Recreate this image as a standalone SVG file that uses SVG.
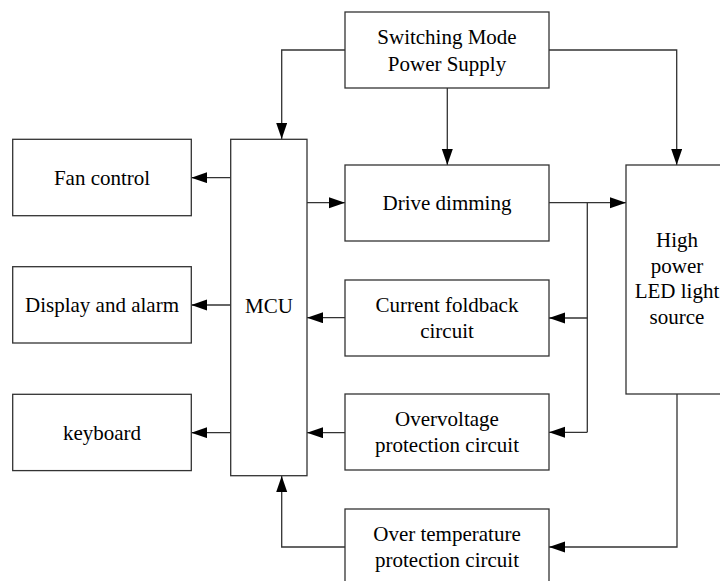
<svg xmlns="http://www.w3.org/2000/svg" width="720" height="581" viewBox="0 0 720 581">
<defs>
<marker id="ah" markerUnits="userSpaceOnUse" markerWidth="16" markerHeight="12" refX="16" refY="5.5" orient="auto">
<path d="M0,0 L16,5.5 L0,11 z" fill="#000"/>
</marker>
<style>
.box{fill:#fff;stroke:#333;stroke-width:1.3}
.t{font-family:"Liberation Serif","Times New Roman",serif;font-size:21px;fill:#000;text-anchor:middle}
.c{fill:none;stroke:#333;stroke-width:1.3}
.a{marker-end:url(#ah)}
</style>
</defs>
<rect width="720" height="581" fill="#fff"/>
<g id="connectors">
<path class="c a" d="M345,50 H281.7 V139"/>
<path class="c a" d="M447.3,88 V165"/>
<path class="c a" d="M549,50 H676.7 V165"/>
<path class="c a" d="M230.7,177.7 H191.3"/>
<path class="c a" d="M230.7,305 H191.3"/>
<path class="c a" d="M230.7,432.7 H191.3"/>
<path class="c a" d="M307,202.7 H345"/>
<path class="c a" d="M345,317.7 H307"/>
<path class="c a" d="M345,432.7 H307"/>
<path class="c a" d="M549,202.7 H626"/>
<path class="c" d="M587.3,202.7 V432.3"/>
<path class="c a" d="M587.3,318 H549"/>
<path class="c a" d="M587.3,432.3 H549"/>
<path class="c a" d="M677,394 V547 H549"/>
<path class="c a" d="M345,547 H281.7 V476"/>
</g>
<g id="smps"><rect class="box" x="345" y="12" width="204" height="76"/><text class="t" x="447" y="44">Switching Mode</text><text class="t" x="447" y="70.5">Power Supply</text></g>
<g id="fan"><rect class="box" x="12.7" y="139.3" width="178.6" height="76.4"/><text class="t" x="102" y="184.5">Fan control</text></g>
<g id="display"><rect class="box" x="12.7" y="266.7" width="178.6" height="76.3"/><text class="t" x="102" y="312">Display and alarm</text></g>
<g id="keyboard"><rect class="box" x="12.7" y="394.3" width="178.6" height="76.3"/><text class="t" x="102" y="439.5">keyboard</text></g>
<g id="mcu"><rect class="box" x="230.7" y="139.3" width="76.3" height="336.4"/><text class="t" x="269" y="313">MCU</text></g>
<g id="drive"><rect class="box" x="345" y="165" width="204" height="76"/><text class="t" x="447" y="210">Drive dimming</text></g>
<g id="foldback"><rect class="box" x="345" y="280" width="204" height="76"/><text class="t" x="447" y="312">Current foldback</text><text class="t" x="447" y="338">circuit</text></g>
<g id="overvoltage"><rect class="box" x="345" y="394" width="204" height="76"/><text class="t" x="447" y="426">Overvoltage</text><text class="t" x="447" y="452">protection circuit</text></g>
<g id="overtemp"><rect class="box" x="345" y="509" width="204" height="80"/><text class="t" x="447" y="541">Over temperature</text><text class="t" x="447" y="567">protection circuit</text></g>
<g id="led"><rect class="box" x="626" y="165" width="103" height="229"/><text class="t" x="677" y="246.7">High</text><text class="t" x="677" y="272.5">power</text><text class="t" x="677" y="298.3">LED light</text><text class="t" x="677" y="324">source</text></g>
</svg>
